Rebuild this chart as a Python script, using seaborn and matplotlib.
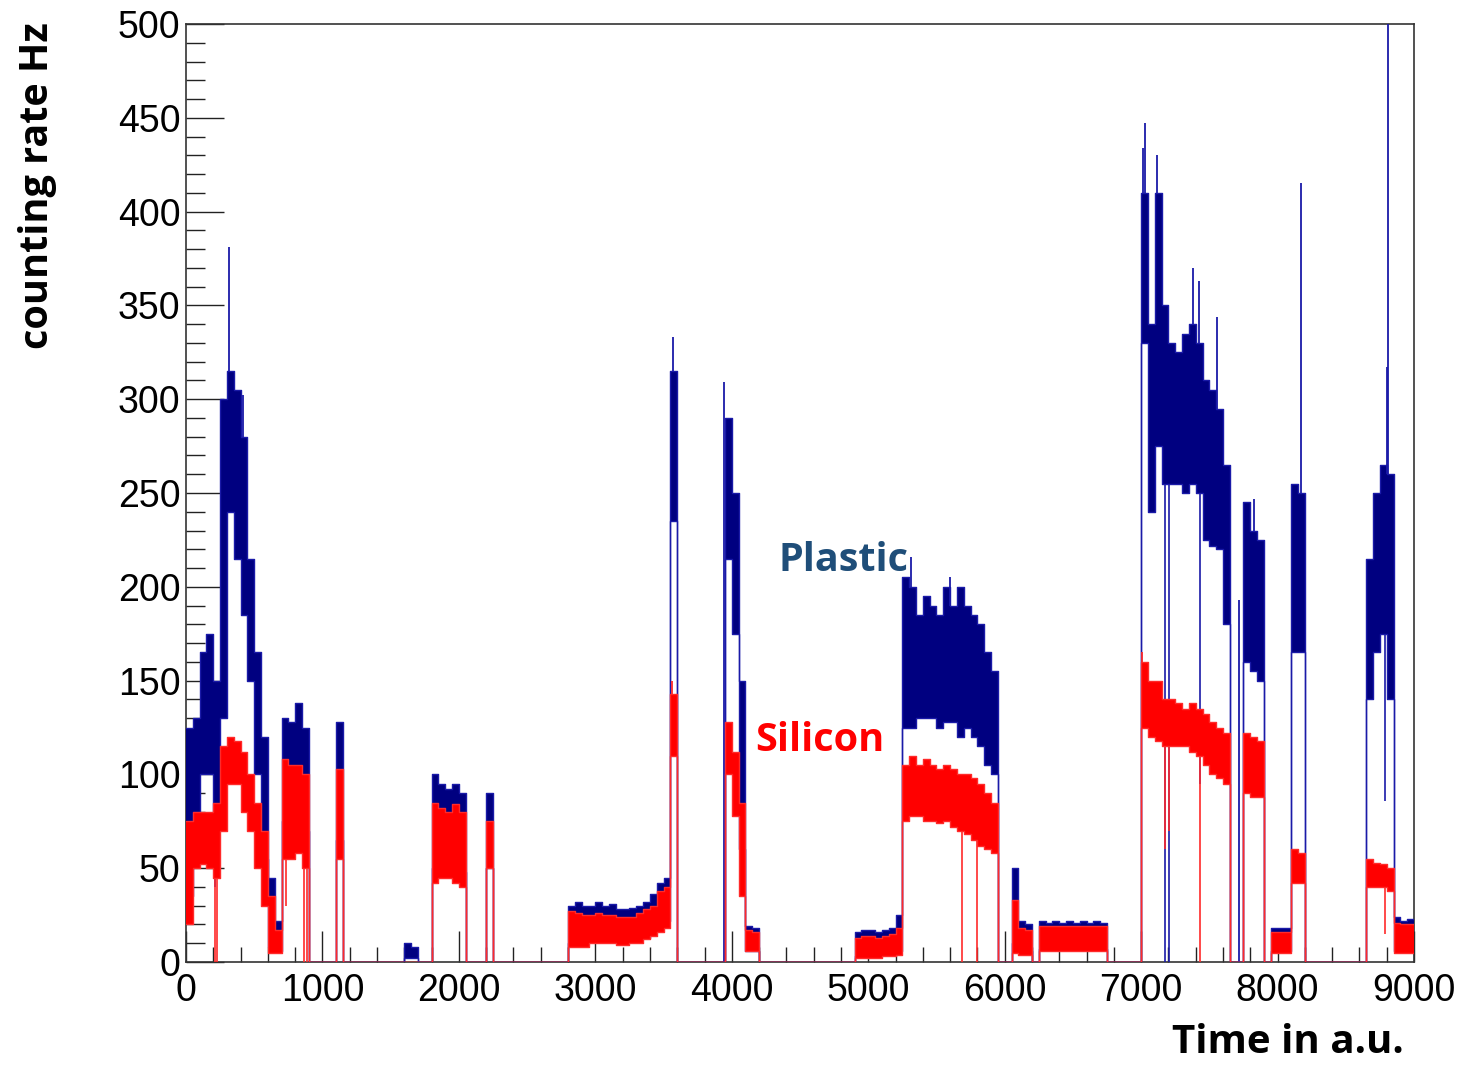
import matplotlib
matplotlib.use('Agg')
import matplotlib.pyplot as plt
from matplotlib.ticker import MultipleLocator
import numpy as np
import pandas as pd
import seaborn as sns

# 50-unit time bins, envelope (upper / lower) of each counting-rate band
bin_width = 50
bin_start = list(range(0, 9000, bin_width))

plastic_hi = [
    125, 130, 165, 175, 150, 300, 315, 305, 280, 215, 165, 120, 45, 22, 130, 128, 138, 125, 0, 0,
    0, 0, 128, 0, 0, 0, 0, 0, 0, 0, 0, 0, 10, 8, 0, 0, 100, 95, 92, 95,
    90, 0, 0, 0, 90, 0, 0, 0, 0, 0, 0, 0, 0, 0, 0, 0, 30, 32, 30, 30,
    32, 30, 31, 28, 28, 29, 30, 32, 36, 42, 45, 315, 0, 0, 0, 0, 0, 0, 0, 290,
    250, 150, 19, 18, 0, 0, 0, 0, 0, 0, 0, 0, 0, 0, 0, 0, 0, 0, 16, 17,
    17, 16, 17, 18, 25, 205, 200, 185, 195, 190, 185, 200, 190, 200, 190, 185, 180, 165, 155, 0,
    0, 50, 22, 20, 0, 22, 21, 22, 21, 22, 21, 22, 21, 22, 21, 0, 0, 0, 0, 0,
    410, 340, 410, 350, 330, 325, 335, 340, 330, 310, 305, 295, 265, 0, 0, 245, 230, 225, 0, 18,
    18, 18, 255, 250, 0, 0, 0, 0, 0, 0, 0, 0, 0, 215, 250, 265, 260, 24, 22, 23,
]
plastic_lo = [
    35, 80, 100, 100, 70, 130, 240, 215, 185, 150, 100, 55, 8, 6, 75, 78, 80, 70, 0, 0,
    0, 0, 65, 0, 0, 0, 0, 0, 0, 0, 0, 0, 2, 2, 0, 0, 50, 52, 55, 50,
    48, 0, 0, 0, 50, 0, 0, 0, 0, 0, 0, 0, 0, 0, 0, 0, 10, 10, 10, 12,
    12, 12, 12, 11, 11, 12, 12, 13, 16, 20, 22, 235, 0, 0, 0, 0, 0, 0, 0, 215,
    175, 60, 6, 6, 0, 0, 0, 0, 0, 0, 0, 0, 0, 0, 0, 0, 0, 0, 3, 3,
    3, 3, 4, 4, 6, 125, 125, 130, 130, 130, 125, 128, 128, 120, 125, 120, 115, 105, 100, 0,
    0, 10, 6, 6, 0, 7, 7, 7, 7, 7, 7, 7, 7, 7, 7, 0, 0, 0, 0, 0,
    330, 240, 275, 255, 255, 255, 250, 255, 250, 225, 222, 220, 180, 0, 0, 160, 155, 150, 0, 6,
    6, 6, 165, 165, 0, 0, 0, 0, 0, 0, 0, 0, 0, 140, 165, 175, 140, 6, 6, 6,
]
silicon_hi = [
    75, 80, 80, 80, 85, 115, 120, 118, 112, 100, 85, 70, 35, 17, 108, 105, 105, 100, 0, 0,
    0, 0, 103, 0, 0, 0, 0, 0, 0, 0, 0, 0, 0, 0, 0, 0, 85, 82, 80, 84,
    80, 0, 0, 0, 75, 0, 0, 0, 0, 0, 0, 0, 0, 0, 0, 0, 27, 26, 25, 25,
    26, 25, 25, 24, 24, 24, 26, 28, 30, 38, 40, 143, 0, 0, 0, 0, 0, 0, 0, 128,
    112, 85, 17, 16, 0, 0, 0, 0, 0, 0, 0, 0, 0, 0, 0, 0, 0, 0, 13, 14,
    14, 13, 14, 15, 18, 105, 110, 105, 108, 105, 103, 105, 103, 100, 100, 98, 95, 90, 85, 0,
    0, 33, 18, 17, 0, 19, 19, 19, 19, 19, 19, 19, 19, 19, 19, 0, 0, 0, 0, 0,
    160, 150, 150, 140, 140, 138, 135, 138, 135, 132, 128, 125, 122, 0, 0, 122, 120, 118, 0, 16,
    16, 16, 60, 58, 0, 0, 0, 0, 0, 0, 0, 0, 0, 55, 53, 52, 50, 21, 20, 20,
]
silicon_lo = [
    20, 50, 52, 50, 45, 70, 95, 95, 80, 70, 50, 30, 5, 5, 55, 55, 58, 50, 0, 0,
    0, 0, 55, 0, 0, 0, 0, 0, 0, 0, 0, 0, 0, 0, 0, 0, 42, 45, 45, 42,
    40, 0, 0, 0, 50, 0, 0, 0, 0, 0, 0, 0, 0, 0, 0, 0, 8, 8, 8, 10,
    10, 10, 10, 9, 9, 10, 10, 12, 14, 16, 18, 110, 0, 0, 0, 0, 0, 0, 0, 100,
    78, 35, 6, 6, 0, 0, 0, 0, 0, 0, 0, 0, 0, 0, 0, 0, 0, 0, 2, 2,
    2, 2, 3, 3, 4, 75, 78, 78, 75, 75, 74, 75, 72, 70, 68, 65, 62, 60, 58, 0,
    0, 5, 4, 4, 0, 6, 6, 6, 6, 6, 6, 6, 6, 6, 6, 0, 0, 0, 0, 0,
    125, 120, 118, 115, 115, 115, 115, 112, 110, 105, 100, 98, 95, 0, 0, 90, 88, 88, 0, 5,
    5, 5, 42, 42, 0, 0, 0, 0, 0, 0, 0, 0, 0, 40, 40, 40, 38, 5, 5, 5,
]

# isolated single-bin spikes and drop-outs
plastic_spike_t = [318, 420, 3567, 3942, 5310, 5600, 7015, 7028, 7118, 7380, 7425, 7555, 7720, 7830, 8170, 8800, 8812]
plastic_spike_v = [381, 302, 333, 309, 216, 205, 434, 447, 430, 370, 363, 344, 193, 247, 415, 317, 500]
silicon_spike_t = [3565, 7005]
silicon_spike_v = [150, 165]
silicon_dip_t = [212, 228, 733, 862, 885, 5685, 5795, 7175, 7205, 7432, 8790]
silicon_dip_v = [0, 0, 30, 0, 0, 0, 0, 60, 70, 0, 15]
plastic_dip_t = [212, 7175, 7205, 7432, 8788]
plastic_dip_v = [40, 0, 0, 95, 86]

PLASTIC_FILL = '#000080'
PLASTIC_LINE = '#1a1aa8'
SILICON_FILL = '#ff0000'
SILICON_LINE = '#ff2a2a'

sns.set_style('ticks')
plt.rcParams['font.family'] = ['Liberation Sans', 'DejaVu Sans']
plt.rcParams['xtick.direction'] = 'in'
plt.rcParams['ytick.direction'] = 'in'
plt.rcParams['text.color'] = 'black'
plt.rcParams['xtick.labelcolor'] = 'black'
plt.rcParams['ytick.labelcolor'] = 'black'

fig = plt.figure(figsize=(14.67, 10.67), dpi=100)
ax = fig.add_axes([0.1268, 0.0984, 0.8371, 0.8791])

edges = bin_start + [9000]


def draw_band(hi, lo, fill, line, spikes_t, spikes_v, dips_t, dips_v, z):
    hi_e = hi + [hi[-1]]
    lo_e = lo + [lo[-1]]
    ax.fill_between(edges, lo_e, hi_e, step='post', color=fill, linewidth=0, zorder=z)
    df = pd.DataFrame({'t': edges, 'hi': hi_e, 'lo': lo_e})
    sns.lineplot(data=df, x='t', y='hi', ax=ax, color=line, lw=1.0,
                 drawstyle='steps-post', estimator=None, zorder=z)
    sns.lineplot(data=df, x='t', y='lo', ax=ax, color=line, lw=1.0,
                 drawstyle='steps-post', estimator=None, zorder=z)
    # spikes rise from the band top, drop-outs fall from the band bottom
    band_hi = [hi[int(t // bin_width)] for t in spikes_t]
    ax.vlines(spikes_t, band_hi, spikes_v, color=line, lw=1.3, zorder=z)
    band_lo = [lo[int(t // bin_width)] for t in dips_t]
    ax.vlines(dips_t, dips_v, band_lo, color=line, lw=1.2, zorder=z)


# plastic first, silicon drawn on top
draw_band(plastic_hi, plastic_lo, PLASTIC_FILL, PLASTIC_LINE,
          plastic_spike_t, plastic_spike_v, plastic_dip_t, plastic_dip_v, 3)
draw_band(silicon_hi, silicon_lo, SILICON_FILL, SILICON_LINE,
          silicon_spike_t, silicon_spike_v, silicon_dip_t, silicon_dip_v, 3.2)

ax.set_xlim(0, 9000)
ax.set_ylim(0, 500)
ax.xaxis.set_major_locator(MultipleLocator(1000))
ax.xaxis.set_minor_locator(MultipleLocator(200))
ax.yaxis.set_major_locator(MultipleLocator(50))
ax.yaxis.set_minor_locator(MultipleLocator(10))
ax.tick_params(axis='y', which='major', length=27, width=1.0, labelsize=27, pad=4, color='#222222')
ax.tick_params(axis='y', which='minor', length=14, width=1.0, color='#222222')
ax.tick_params(axis='x', which='major', length=22, width=1.0, labelsize=27, pad=8, color='#222222')
ax.tick_params(axis='x', which='minor', length=11, width=1.0, color='#222222')
ax.set_xlabel('')
ax.set_ylabel('')
for s in ax.spines.values():
    s.set_visible(True)
    s.set_linewidth(1.2)
    s.set_color('#333333')

bold = ['Open Sans', 'DejaVu Sans']
ax.text(4339, 214, 'Plastic', color='#1f4e79', fontsize=28.5, fontweight='bold',
        family=bold, ha='left', va='center')
ax.text(4170, 118, 'Silicon', color='#ff0000', fontsize=28.5, fontweight='bold',
        family=bold, ha='left', va='center')

fig.text(38 / 1467, 1 - 22 / 1067, 'counting rate Hz', rotation=90, fontsize=28.5,
         fontweight='bold', family=bold, ha='center', va='top', color='black')
fig.text(1404 / 1467, 1 - 1062 / 1067, 'Time in a.u.', fontsize=29,
         fontweight='bold', family=bold, ha='right', va='bottom', color='black')

fig.savefig('out.png', dpi=100)
